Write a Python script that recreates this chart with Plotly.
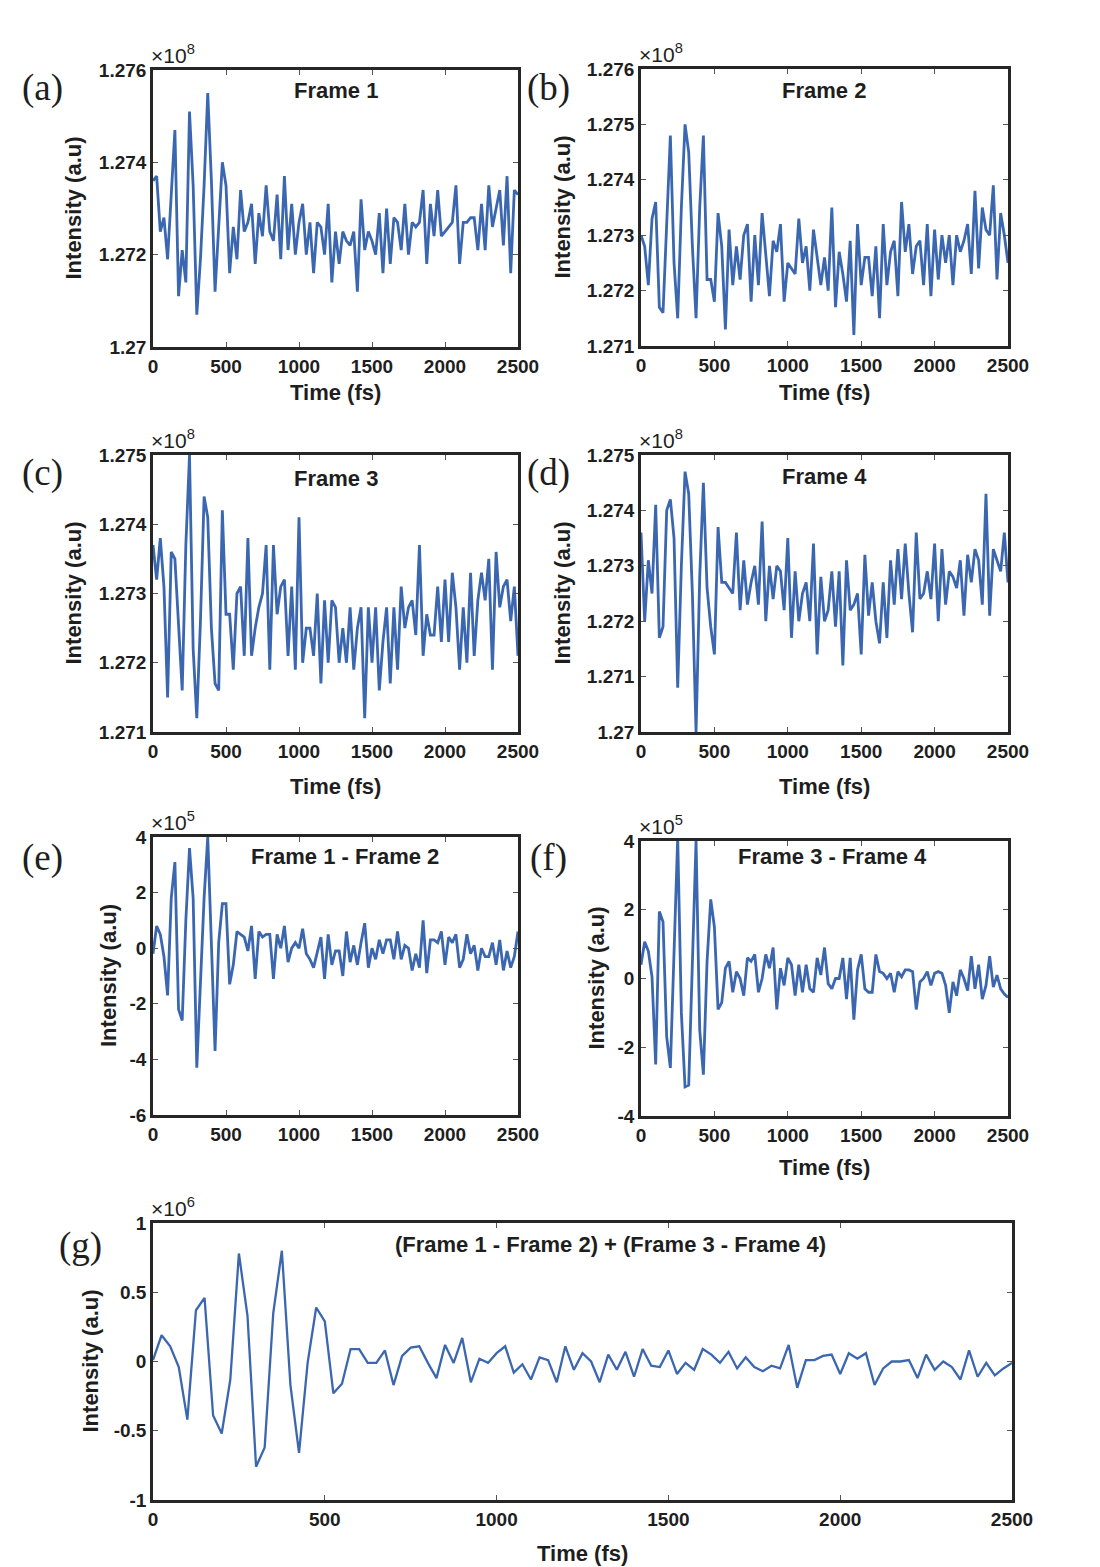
import plotly.graph_objects as go

W, H = 1100, 1567
OFF = 8  # page body margin compensation (pixels)

time_fs = list(range(0, 2525, 25))

frame1 = [
    1.2736, 1.2737, 1.2725, 1.2728, 1.2719, 1.2733, 1.2747, 1.2711, 1.2721, 1.2714,
    1.2751, 1.2735, 1.2707, 1.2719, 1.2735, 1.2755, 1.2736, 1.2712, 1.2725, 1.2740,
    1.2735, 1.2716, 1.2726, 1.2719, 1.2734, 1.2725, 1.2727, 1.2731, 1.2718, 1.2729,
    1.2724, 1.2735, 1.2725, 1.2723, 1.2733, 1.2719, 1.2737, 1.2721, 1.2731, 1.2720,
    1.2727, 1.2731, 1.2720, 1.2727, 1.2716, 1.2727, 1.2726, 1.2720, 1.2731, 1.2714,
    1.2725, 1.2718, 1.2725, 1.2723, 1.2722, 1.2725, 1.2712, 1.2732, 1.2721, 1.2725,
    1.2723, 1.2720, 1.2729, 1.2716, 1.2730, 1.2718, 1.2728, 1.2727, 1.2721, 1.2731,
    1.2720, 1.2727, 1.2726, 1.2727, 1.2734, 1.2718, 1.2731, 1.2724, 1.2734, 1.2724,
    1.2725, 1.2726, 1.2727, 1.2735, 1.2718, 1.2727, 1.2727, 1.2728, 1.2728, 1.2721,
    1.2731, 1.2721, 1.2735, 1.2726, 1.2730, 1.2734, 1.2722, 1.2737, 1.2716, 1.2734,
    1.2733,
]

frame2 = [
    1.2730, 1.2728, 1.2721, 1.2733, 1.2736, 1.2717, 1.2716, 1.2731, 1.2748, 1.2725,
    1.2715, 1.2735, 1.2750, 1.2745, 1.2728, 1.2715, 1.2735, 1.2748, 1.2722, 1.2722,
    1.2718, 1.2734, 1.2728, 1.2713, 1.2731, 1.2721, 1.2728, 1.2722, 1.2730, 1.2732,
    1.2718, 1.2730, 1.2721, 1.2734, 1.2727, 1.2719, 1.2729, 1.2727, 1.2732, 1.2718,
    1.2725, 1.2724, 1.2723, 1.2733, 1.2725, 1.2728, 1.2720, 1.2731, 1.2726, 1.2721,
    1.2726, 1.2720, 1.2735, 1.2717, 1.2727, 1.2723, 1.2718, 1.2729, 1.2712, 1.2732,
    1.2721, 1.2726, 1.2726, 1.2719, 1.2728, 1.2715, 1.2732, 1.2721, 1.2727, 1.2729,
    1.2719, 1.2736, 1.2727, 1.2732, 1.2723, 1.2728, 1.2729, 1.2721, 1.2732, 1.2719,
    1.2731, 1.2722, 1.2730, 1.2725, 1.2730, 1.2721, 1.2730, 1.2727, 1.2729, 1.2732,
    1.2723, 1.2738, 1.2724, 1.2735, 1.2731, 1.2730, 1.2739, 1.2722, 1.2734, 1.2730,
    1.2725,
]

frame3 = [
    1.2737, 1.2732, 1.2738, 1.2731, 1.2715, 1.2736, 1.2735, 1.2725, 1.2716, 1.2737,
    1.2750, 1.2722, 1.2712, 1.2726, 1.2744, 1.2741, 1.2725, 1.2717, 1.2716, 1.2742,
    1.2727, 1.2727, 1.2719, 1.2730, 1.2731, 1.2721, 1.2738, 1.2721, 1.2725, 1.2728,
    1.2730, 1.2737, 1.2719, 1.2737, 1.2727, 1.2731, 1.2732, 1.2721, 1.2731, 1.2719,
    1.2741, 1.2720, 1.2725, 1.2725, 1.2721, 1.2730, 1.2717, 1.2729, 1.2720, 1.2729,
    1.2728, 1.2720, 1.2725, 1.2720, 1.2728, 1.2719, 1.2725, 1.2728, 1.2712, 1.2728,
    1.2720, 1.2728, 1.2716, 1.2723, 1.2728, 1.2717, 1.2728, 1.2719, 1.2731, 1.2725,
    1.2728, 1.2729, 1.2724, 1.2737, 1.2721, 1.2727, 1.2724, 1.2724, 1.2731, 1.2723,
    1.2732, 1.2723, 1.2733, 1.2728, 1.2719, 1.2728, 1.2720, 1.2733, 1.2721, 1.2729,
    1.2733, 1.2729, 1.2735, 1.2719, 1.2736, 1.2728, 1.2731, 1.2732, 1.2726, 1.2731,
    1.2721,
]

frame4 = [
    1.2736, 1.2720, 1.2731, 1.2725, 1.2741, 1.2717, 1.2719, 1.2740, 1.2742, 1.2735,
    1.2708, 1.2730, 1.2747, 1.2743, 1.2725, 1.2700, 1.2728, 1.2745, 1.2726, 1.2719,
    1.2714, 1.2737, 1.2727, 1.2727, 1.2726, 1.2725, 1.2736, 1.2722, 1.2731, 1.2723,
    1.2727, 1.2730, 1.2723, 1.2738, 1.2720, 1.2730, 1.2724, 1.2730, 1.2729, 1.2722,
    1.2735, 1.2717, 1.2729, 1.2720, 1.2725, 1.2727, 1.2720, 1.2734, 1.2714, 1.2728,
    1.2720, 1.2722, 1.2729, 1.2719, 1.2729, 1.2712, 1.2731, 1.2722, 1.2723, 1.2725,
    1.2714, 1.2732, 1.2721, 1.2727, 1.2720, 1.2716, 1.2727, 1.2717, 1.2731, 1.2723,
    1.2733, 1.2724, 1.2734, 1.2725, 1.2718, 1.2736, 1.2724, 1.2725, 1.2729, 1.2724,
    1.2734, 1.2720, 1.2733, 1.2723, 1.2729, 1.2728, 1.2726, 1.2731, 1.2721, 1.2732,
    1.2727, 1.2733, 1.2731, 1.2723, 1.2743, 1.2721, 1.2733, 1.2731, 1.2729, 1.2736,
    1.2727,
]

diff12 = [
    -0.2, 0.8, 0.5, -0.3, -1.7, 1.8, 3.1, -2.2, -2.6, 1.0,
    3.6, 1.8, -4.3, -1.5, 1.8, 4.0, 0.3, -3.7, 0.2, 1.6,
    1.6, -1.3, -0.6, 0.6, 0.5, 0.4, -0.1, 0.8, -1.1, 0.6,
    0.4, 0.5, 0.5, -1.1, 0.5, 0.0, 0.8, -0.5, 0.0, 0.2,
    0.0, 0.7, -0.2, -0.4, -0.7, -0.2, 0.4, -1.1, 0.5, -0.6,
    -0.1, -0.1, -1.0, 0.6, -0.5, 0.1, -0.6, 0.2, 0.9, -0.7,
    0.0, -0.4, 0.3, -0.2, 0.3, 0.3, -0.4, 0.6, -0.4, 0.1,
    0.0, -0.8, -0.2, -0.7, 1.0, -0.9, 0.3, 0.3, 0.2, 0.6,
    -0.6, 0.4, 0.2, 0.5, -0.7, -0.4, 0.5, -0.2, 0.1, -0.8,
    0.0, -0.3, -0.3, 0.2, -0.6, 0.3, -0.8, -0.1, -0.7, -0.3,
    0.6,
]

diff34 = [
    0.4, 1.07, 0.8, 0.05, -2.5, 1.95, 1.65, -1.7, -2.6, 1.0,
    4.1, -1.0, -3.15, -3.1, 0.5, 4.0, -1.5, -2.8, 0.5, 2.3,
    1.5, -0.9, -0.7, 0.3, 0.5, -0.4, 0.2, 0.0, -0.5, 0.6,
    0.5, 0.7, -0.4, 0.0, 0.7, 0.3, 0.9, -0.9, 0.3, -0.2,
    0.6, 0.4, -0.5, 0.4, -0.4, 0.4, -0.3, -0.4, 0.6, 0.1,
    0.9, -0.15, -0.3, 0.0, 0.0, 0.6, -0.6, 0.6, -1.2, 0.25,
    0.7, -0.3, -0.4, -0.4, 0.7, 0.2, 0.15, 0.0, 0.15, -0.4,
    0.2, 0.05, 0.25, 0.25, 0.2, -0.9, -0.1, 0.0, 0.2, -0.2,
    0.15, 0.2, 0.15, -0.2, -1.0, -0.1, -0.5, 0.25, 0.0, -0.35,
    0.65, -0.3, 0.4, -0.6, -0.2, 0.65, -0.25, 0.1, -0.3, -0.45,
    -0.55,
]

sum_diff = [
    0.01, 0.19, 0.11, -0.04, -0.42, 0.37, 0.46, -0.39, -0.52, -0.13,
    0.78, 0.33, -0.76, -0.62, 0.35, 0.80, -0.17, -0.66, -0.01, 0.39,
    0.29, -0.23, -0.16, 0.09, 0.09, -0.01, -0.01, 0.08, -0.17, 0.04,
    0.10, 0.11, -0.01, -0.12, 0.12, -0.01, 0.17, -0.15, 0.02, -0.01,
    0.06, 0.11, -0.08, -0.02, -0.13, 0.03, 0.01, -0.15, 0.11, -0.06,
    0.06, 0.00, -0.15, 0.05, -0.06, 0.07, -0.11, 0.09, -0.03, -0.04,
    0.08, -0.09, -0.01, -0.06, 0.09, 0.05, -0.01, 0.07, -0.05, 0.03,
    -0.04, -0.07, -0.03, -0.05, 0.12, -0.19, 0.01, 0.01, 0.04, 0.05,
    -0.09, 0.06, 0.02, 0.06, -0.17, -0.05, 0.00, 0.00, 0.01, -0.12,
    0.05, -0.06, 0.00, -0.04, -0.13, 0.08, -0.11, -0.01, -0.10, -0.05,
    -0.01,
]

panel_titles = ["Frame 1", "Frame 2", "Frame 3", "Frame 4",
                "Frame 1 - Frame 2", "Frame 3 - Frame 4",
                "(Frame 1 - Frame 2) + (Frame 3 - Frame 4)"]
panel_letters = ["(a)", "(b)", "(c)", "(d)", "(e)", "(f)", "(g)"]
exponents = ["8", "8", "8", "8", "5", "5", "6"]

ytick_a = [1.270, 1.272, 1.274, 1.276]
ytext_a = ["1.27", "1.272", "1.274", "1.276"]
ytick_b = [1.271, 1.272, 1.273, 1.274, 1.275, 1.276]
ytext_b = ["1.271", "1.272", "1.273", "1.274", "1.275", "1.276"]
ytick_c = [1.271, 1.272, 1.273, 1.274, 1.275]
ytext_c = ["1.271", "1.272", "1.273", "1.274", "1.275"]
ytick_d = [1.270, 1.271, 1.272, 1.273, 1.274, 1.275]
ytext_d = ["1.27", "1.271", "1.272", "1.273", "1.274", "1.275"]
ytick_e = [-6, -4, -2, 0, 2, 4]
ytick_f = [-4, -2, 0, 2, 4]
ytick_g = [-1, -0.5, 0, 0.5, 1]
ytext_g = ["-1", "-0.5", "0", "0.5", "1"]
xticks_small = [0, 500, 1000, 1500, 2000, 2500]

LINE_COLOR = "#3b67b0"
AX_COLOR = "#262626"
TXT = "#1e1e1e"
SANS = "Liberation Sans"
SERIF = "Liberation Serif"


def fx(px):
    return (px - OFF) / W


def fy(py):
    return 1 - (py - OFF) / H


# layout geometry in screen pixels: (x0, x1, y0_top, y1_bottom)
panels = [
    dict(box=(153, 518, 70, 347), y=frame1, yr=[1.270, 1.276], tv=ytick_a, tt=ytext_a,
         title_xy=(336, 90), letter_xy=(42, 88), ylab_x=73, xlab_y=392, lw=2.8),
    dict(box=(641, 1008, 69, 346), y=frame2, yr=[1.271, 1.276], tv=ytick_b, tt=ytext_b,
         title_xy=(824, 90), letter_xy=(548, 88), ylab_x=562, xlab_y=392, lw=2.8),
    dict(box=(153, 518, 455, 732), y=frame3, yr=[1.271, 1.275], tv=ytick_c, tt=ytext_c,
         title_xy=(336, 478), letter_xy=(42, 473), ylab_x=73, xlab_y=786, lw=2.8),
    dict(box=(641, 1008, 455, 732), y=frame4, yr=[1.270, 1.275], tv=ytick_d, tt=ytext_d,
         title_xy=(824, 476), letter_xy=(548, 473), ylab_x=562, xlab_y=786, lw=2.8),
    dict(box=(153, 518, 837, 1115), y=diff12, yr=[-6, 4], tv=ytick_e, tt=[str(v) for v in ytick_e],
         title_xy=(345, 857), letter_xy=(42, 858), ylab_x=108, xlab_y=None, lw=2.8),
    dict(box=(641, 1008, 841, 1116), y=diff34, yr=[-4, 4], tv=ytick_f, tt=[str(v) for v in ytick_f],
         title_xy=(832, 857), letter_xy=(548, 858), ylab_x=596, xlab_y=1167, lw=2.8),
    dict(box=(153, 1012, 1223, 1500), y=sum_diff, yr=[-1, 1], tv=ytick_g, tt=ytext_g,
         title_xy=(610, 1244), letter_xy=(80, 1246), ylab_x=90, xlab_y=1553, lw=2.3),
]

fig = go.Figure()
annotations = []

for i, p in enumerate(panels):
    n = i + 1
    xa = "x" if n == 1 else f"x{n}"
    ya = "y" if n == 1 else f"y{n}"
    x0, x1, y0, y1 = p["box"]
    fig.add_trace(go.Scatter(x=time_fs, y=p["y"], mode="lines",
                             line=dict(color=LINE_COLOR, width=p["lw"]),
                             xaxis=xa, yaxis=ya, showlegend=False, cliponaxis=True))
    common = dict(showline=True, linecolor=AX_COLOR, linewidth=2.6, mirror="allticks",
                  ticks="inside", ticklen=5, tickwidth=1.2, tickcolor="#555555",
                  showgrid=False, zeroline=False, automargin=False,
                  tickfont=dict(family=SANS, size=19, color=TXT, weight="bold"))
    xkey = "xaxis" if n == 1 else f"xaxis{n}"
    ykey = "yaxis" if n == 1 else f"yaxis{n}"
    fig.update_layout(**{
        xkey: dict(domain=[fx(x0), fx(x1)], range=[0, 2500], anchor=ya,
                   tickvals=xticks_small, ticktext=[str(v) for v in xticks_small], **common),
        ykey: dict(domain=[fy(y1), fy(y0)], range=p["yr"], anchor=xa,
                   tickvals=p["tv"], ticktext=p["tt"], **common),
    })
    tx, ty = p["title_xy"]
    annotations.append(dict(x=fx(tx), y=fy(ty), xref="paper", yref="paper",
                            text=panel_titles[i], showarrow=False,
                            xanchor="center", yanchor="middle",
                            font=dict(family=SANS, size=22, color=TXT, weight="bold")))
    lx, ly = p["letter_xy"]
    annotations.append(dict(x=fx(lx), y=fy(ly), xref="paper", yref="paper",
                            text=panel_letters[i], showarrow=False,
                            xanchor="center", yanchor="middle",
                            font=dict(family=SERIF, size=37, color=TXT)))
    annotations.append(dict(x=fx(x0 - 4), y=fy(y0 - 1), xref="paper", yref="paper",
                            text="\u00d710<sup>" + exponents[i] + "</sup>", showarrow=False,
                            xanchor="left", yanchor="bottom",
                            font=dict(family=SANS, size=21, color=TXT)))
    annotations.append(dict(x=fx(p["ylab_x"]), y=fy((y0 + y1) / 2), xref="paper", yref="paper",
                            text="Intensity (a.u)", showarrow=False, textangle=-90,
                            xanchor="center", yanchor="middle",
                            font=dict(family=SANS, size=22, color=TXT, weight="bold")))
    if p["xlab_y"] is not None:
        annotations.append(dict(x=fx((x0 + x1) / 2), y=fy(p["xlab_y"]), xref="paper", yref="paper",
                                text="Time (fs)", showarrow=False,
                                xanchor="center", yanchor="middle",
                                font=dict(family=SANS, size=22, color=TXT, weight="bold")))

fig.update_layout(width=W, height=H, autosize=False,
                  margin=dict(l=0, r=0, t=0, b=0, pad=0, autoexpand=False),
                  paper_bgcolor="white", plot_bgcolor="white",
                  annotations=annotations, showlegend=False)

fig.write_html("out.html")
